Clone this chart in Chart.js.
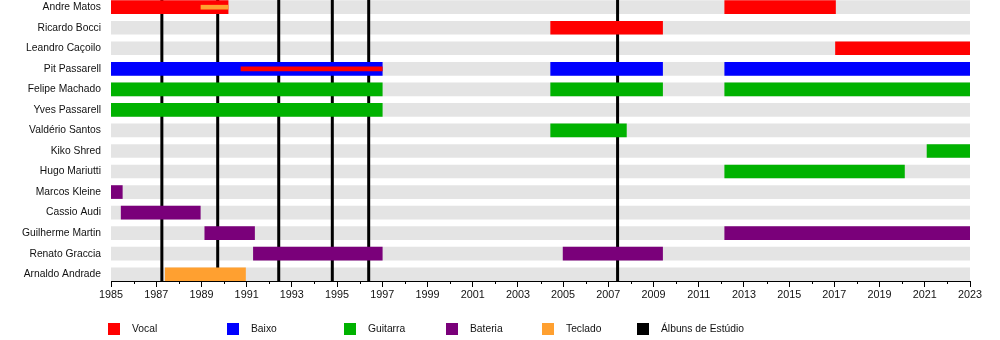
<!DOCTYPE html>
<html>
<head>
<meta charset="utf-8">
<script src="https://cdn.jsdelivr.net/npm/chart.js@4.4.1/dist/chart.umd.min.js"></script>
<style>
  html, body { margin: 0; padding: 0; background: #fff; }
  #wrap { position: relative; width: 1000px; height: 340px; }
  .lg { position: absolute; top: 322px; font: 10.3px 'Liberation Sans', Arial, sans-serif; color: #111; line-height: 14px; }
  .lg i { position: absolute; left: 0; top: 1px; width: 12px; height: 12px; }
  .lg span { position: absolute; left: 24px; top: 0; white-space: nowrap; }
</style>
</head>
<body>
<div id="wrap">
  <canvas id="c" width="1000" height="340"></canvas>
</div>
<script>
// membros, de cima para baixo
const members = ['Andre Matos', 'Ricardo Bocci', 'Leandro Caçoilo', 'Pit Passarell', 'Felipe Machado',
  'Yves Passarell', 'Valdério Santos', 'Kiko Shred', 'Hugo Mariutti', 'Marcos Kleine',
  'Cassio Audi', 'Guilherme Martin', 'Renato Graccia', 'Arnaldo Andrade'];

const startYear = 1985, endYear = 2023;

// [membro, início, fim]
const vocal = [['Andre Matos', 1985, 1990.18], ['Andre Matos', 2012.15, 2017.05],
  ['Ricardo Bocci', 2004.45, 2009.4], ['Leandro Caçoilo', 2017.05, 2023]];
const baixo = [['Pit Passarell', 1985, 1997], ['Pit Passarell', 2004.45, 2009.4], ['Pit Passarell', 2012.15, 2023]];
const guitarra = [['Felipe Machado', 1985, 1997], ['Felipe Machado', 2004.45, 2009.4], ['Felipe Machado', 2012.15, 2023],
  ['Yves Passarell', 1985, 1997], ['Valdério Santos', 2004.45, 2007.8], ['Kiko Shred', 2021.1, 2023],
  ['Hugo Mariutti', 2012.15, 2020.1]];
const bateria = [['Marcos Kleine', 1985, 1985.5], ['Cassio Audi', 1985.45, 1988.95],
  ['Guilherme Martin', 1989.15, 1991.35], ['Guilherme Martin', 2012.15, 2023],
  ['Renato Graccia', 1991.3, 1997], ['Renato Graccia', 2005, 2009.4]];
const teclado = [['Arnaldo Andrade', 1987.4, 1990.95]];
// papéis secundários (barra fina)
const tecladoExtra = [['Andre Matos', 1988.98, 1990.18]];
const vocalExtra = [['Pit Passarell', 1990.75, 1997]];

// álbuns de estúdio
const albums = [1987.25, 1989.72, 1992.42, 1994.79, 1996.4, 2007.41];

const legendLabels = ['Vocal', 'Baixo', 'Guitarra', 'Bateria', 'Teclado', 'Álbuns de Estúdio'];
const legendColors = ['#ff0000', '#0000ff', '#00b200', '#7a007a', '#ffa030', '#000000'];
const legendLeft = [108, 227, 344, 446, 542, 637];

const FONT = "'Liberation Sans', Arial, sans-serif";

function toBars(list) {
  return list.map(r => ({ x: [r[1], r[2]], y: members.indexOf(r[0]) }));
}

function ds(list, color, thick, order) {
  return { data: toBars(list), backgroundColor: color, barThickness: thick, grouped: false, order: order, borderWidth: 0 };
}

const albumLines = {
  id: 'albumLines',
  afterDatasetDraw(chart, args) {
    if (args.index !== 0) return;
    const ctx = chart.ctx, x = chart.scales.x, a = chart.chartArea;
    ctx.save();
    ctx.strokeStyle = '#000';
    ctx.lineWidth = 3;
    albums.forEach(v => {
      const px = x.getPixelForValue(v);
      ctx.beginPath();
      ctx.moveTo(px, a.top);
      ctx.lineTo(px, a.bottom);
      ctx.stroke();
    });
    ctx.restore();
  },
  afterDraw(chart) {
    // ticks menores nos anos pares
    const ctx = chart.ctx, x = chart.scales.x, b = chart.chartArea.bottom;
    ctx.save();
    ctx.strokeStyle = '#000';
    ctx.lineWidth = 1;
    for (let y = startYear + 1; y < endYear; y += 2) {
      const px = Math.round(x.getPixelForValue(y)) + 0.5;
      ctx.beginPath();
      ctx.moveTo(px, b);
      ctx.lineTo(px, b + 3);
      ctx.stroke();
    }
    ctx.restore();
  }
};

new Chart(document.getElementById('c'), {
  type: 'bar',
  data: {
    datasets: [
      ds(members.map(m => [m, startYear, endYear]), '#e4e4e4', 13, 3),
      ds(vocal, legendColors[0], 13, 2),
      ds(baixo, legendColors[1], 13, 2),
      ds(guitarra, legendColors[2], 13, 2),
      ds(bateria, legendColors[3], 13, 2),
      ds(teclado, legendColors[4], 13, 2),
      ds(tecladoExtra, legendColors[4], 4, 1),
      ds(vocalExtra, legendColors[0], 4, 1)
    ]
  },
  options: {
    indexAxis: 'y',
    responsive: false,
    animation: false,
    layout: { padding: { top: 0, right: 30, bottom: 0, left: 0 } },
    plugins: { legend: { display: false }, tooltip: { enabled: false } },
    scales: {
      x: {
        type: 'linear', min: startYear, max: endYear,
        grid: { drawOnChartArea: false, drawTicks: true, tickLength: 6,
          tickColor: c => ((c.tick && (c.tick.value - startYear) % 2 === 0) ? '#000' : 'rgba(0,0,0,0)') },
        border: { display: true, color: '#000', width: 1 },
        ticks: { stepSize: 1, autoSkip: false, maxRotation: 0, padding: 2, color: '#111',
          font: { family: FONT, size: 10.8 },
          callback: v => ((v - startYear) % 2 === 0 ? String(v) : '') },
        afterFit: s => { s.height = 59; }
      },
      y: {
        type: 'linear', reverse: true, offset: false, min: -0.35, max: 13.33,
        grid: { display: false, drawTicks: false },
        border: { display: false },
        ticks: { padding: 10, color: '#111', font: { family: FONT, size: 10.3 },
          callback: v => members[v] || '' },
        afterBuildTicks: s => { s.ticks = members.map((m, i) => ({ value: i })); },
        afterFit: s => { s.width = 111; s.paddingTop = 0; s.paddingBottom = 0; }
      }
    }
  },
  plugins: [albumLines]
});

// legenda
const wrap = document.getElementById('wrap');
legendLabels.forEach((t, i) => {
  const d = document.createElement('div');
  d.className = 'lg';
  d.style.left = legendLeft[i] + 'px';
  d.innerHTML = `<i style="background:${legendColors[i]}"></i><span>${t}</span>`;
  wrap.appendChild(d);
});
</script>
</body>
</html>
